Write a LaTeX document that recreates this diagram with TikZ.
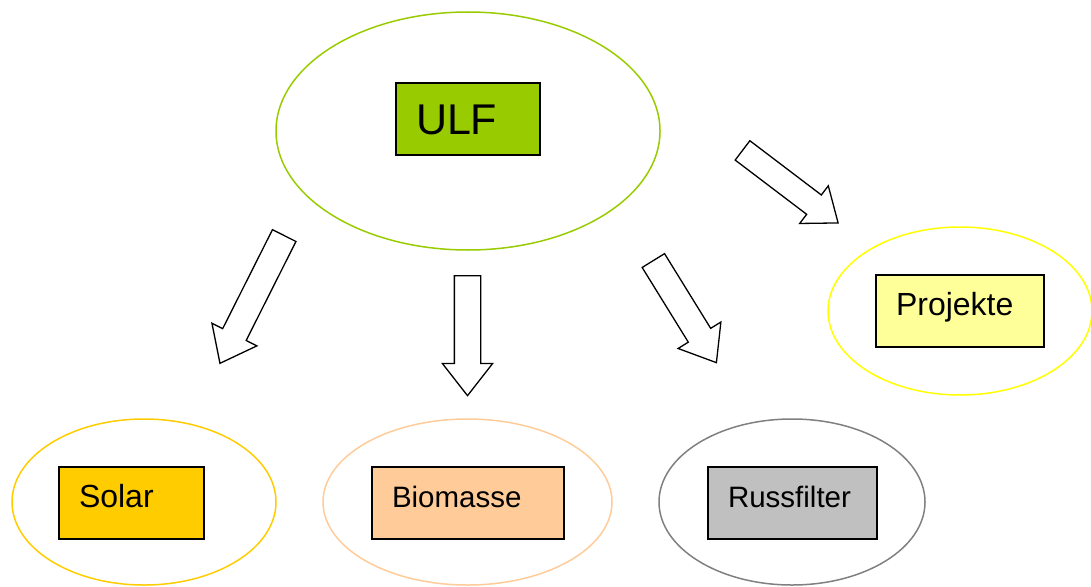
\documentclass[tikz,border=0pt]{standalone}
\usepackage{fontspec}
\setmainfont{Liberation Sans}
\usepackage{xcolor}
\usepackage{tikz}
\usetikzlibrary{shapes.geometric,shapes.arrows}

\definecolor{ulfgreen}{HTML}{99CC00}
\definecolor{projyellow}{HTML}{FFFF00}
\definecolor{projfill}{HTML}{FFFF99}
\definecolor{solargold}{HTML}{FFCC00}
\definecolor{biopeach}{HTML}{FFCC99}
\definecolor{russgrey}{HTML}{808080}
\definecolor{russfill}{HTML}{C0C0C0}

\begin{document}
\begin{tikzpicture}[x=1pt, y=-1pt,
  area/.style={draw, ellipse, line width=1.5pt, inner sep=0pt},
  box/.style={rectangle, draw=black, line width=1.5pt, align=left,
              inner xsep=20pt, inner ysep=0pt, minimum height=72pt},
  ulftext/.style={font=\fontsize{43}{52}\selectfont, text height=31pt, text depth=0pt},
  labeltext/.style={font=\fontsize{32}{38}\selectfont, text height=23.5pt, text depth=14.5pt},
  smalltext/.style={font=\fontsize{29.5}{35}\selectfont, text height=22pt, text depth=14pt},
  blockarrow/.style={single arrow, draw=black, fill=white, line width=1.3pt,
                     inner xsep=0pt, inner ysep=12.5pt, minimum width=0pt,
                     minimum height=120pt, text height=0pt, text depth=0pt,
                     single arrow head extend=12pt, single arrow tip angle=76,
                     anchor=tail}
]
\useasboundingbox (0,0) rectangle (1091,586);

% Ellipses
\node[area, draw=ulfgreen, minimum width=384pt, minimum height=238pt] (ulfarea) at (468,131) {};
\node[area, draw=projyellow, minimum width=264pt, minimum height=168pt] (projarea) at (960,311) {};
\node[area, draw=solargold, minimum width=264pt, minimum height=166pt] (solararea) at (144,502) {};
\node[area, draw=biopeach, minimum width=289pt, minimum height=166pt] (bioarea) at (467.5,502) {};
\node[area, draw=russgrey, minimum width=266pt, minimum height=166pt] (russarea) at (792,502) {};

% Boxes
\node[box, ulftext, fill=ulfgreen, text width=104pt] (ulf) at (468,119) {ULF};
\node[box, labeltext, fill=projfill, text width=128pt] (proj) at (960,311) {Projekte};
\node[box, labeltext, fill=solargold, text width=105pt] (solar) at (131.5,503) {Solar};
\node[box, smalltext, fill=biopeach, text width=152pt] (bio) at (468,503) {Biomasse};
\node[box, smalltext, fill=russfill, text width=129pt] (russ) at (792.5,503) {Russfilter};

% Arrows (placed by their tails)
\node[blockarrow, minimum height=143pt, rotate=243.3] (toSolar) at (284.5,235) {};
\node[blockarrow, rotate=-90] (toBio) at (467.5,275) {};
\node[blockarrow, rotate=-58.3] (toRuss) at (653,260) {};
\node[blockarrow, inner ysep=11.5pt, single arrow head extend=11.5pt, rotate=-37.2] (toProj) at (742,150) {};

\end{tikzpicture}
\end{document}
